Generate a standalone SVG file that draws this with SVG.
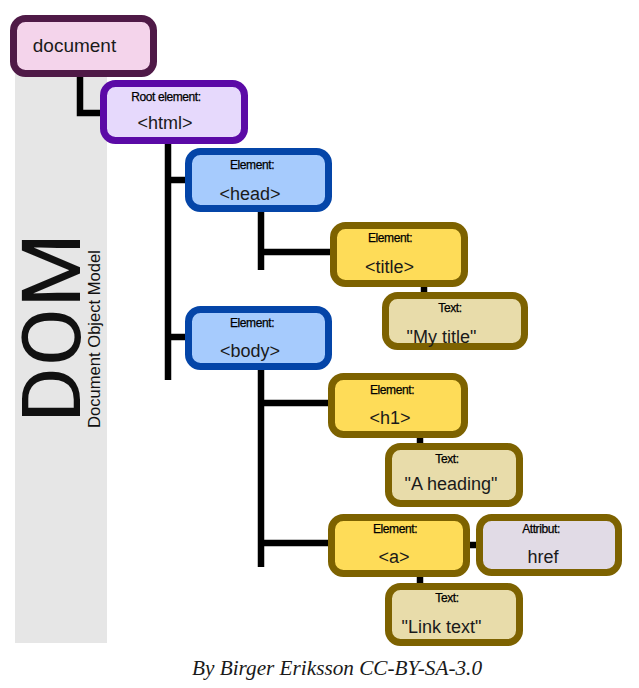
<svg xmlns="http://www.w3.org/2000/svg" width="639" height="688" viewBox="0 0 639 688">
<style>
.box{stroke-width:7}
.doc{fill:#f4d4eb;stroke:#4f1a47}
.root{fill:#e6d9fc;stroke:#5b0aa6}
.el{fill:#a6cbfd;stroke:#0445a8}
.yel{fill:#fedc58;stroke:#7d6200}
.txt{fill:#e8dcaa;stroke:#7d6200}
.att{fill:#e1dbe6;stroke:#7d6200}
text{font-family:"Liberation Sans",Arial,sans-serif;fill:#1a1a1a;text-anchor:middle}
.lbl{font-size:12px;letter-spacing:-0.4px;fill:#000;stroke:#000;stroke-width:0.25}
.val{font-size:18px}
.con path{fill:none;stroke:#000;stroke-width:6.5}
</style>
<rect x="15" y="40" width="92" height="603" fill="#e6e6e6"/>
<g id="dom-title">
<text transform="translate(80,423) rotate(-90)" style="font-family:Roboto,'Liberation Sans',sans-serif;font-weight:400;font-size:82px;text-anchor:start;fill:#111" textLength="190" lengthAdjust="spacingAndGlyphs">DOM</text>
<text transform="translate(100,428) rotate(-90)" style="font-size:16.5px;text-anchor:start;fill:#111" textLength="178" lengthAdjust="spacingAndGlyphs">Document Object Model</text>
</g>
<g class="con" id="connectors">
<path d="M80 75 V113 H104"/>
<path d="M168 142 V380"/>
<path d="M168 180 H189"/>
<path d="M168 337 H189"/>
<path d="M261 210 V270"/>
<path d="M258 252 H334"/>
<path d="M424 285 V297"/>
<path d="M261 368 V567"/>
<path d="M258 403 H332"/>
<path d="M258 543 H332"/>
<path d="M420 436 V448"/>
<path d="M468 545 H480"/>
<path d="M420 575 V588"/>
</g>
<g id="document"><rect class="box doc" x="13.5" y="18.5" width="140" height="55" rx="12"/><text x="74.5" y="52" style="font-size:19px">document</text></g>
<g id="html"><rect class="box root" x="103.5" y="83.5" width="141" height="57" rx="12"/><text class="lbl" x="166" y="101">Root element:</text><text class="val" x="165" y="129">&lt;html&gt;</text></g>
<g id="head"><rect class="box el" x="188.5" y="151.5" width="140" height="57" rx="12"/><text class="lbl" x="252" y="169">Element:</text><text class="val" x="250" y="200">&lt;head&gt;</text></g>
<g id="title"><rect class="box yel" x="333.5" y="225.5" width="131" height="58" rx="12"/><text class="lbl" x="390" y="242">Element:</text><text class="val" x="389.5" y="273">&lt;title&gt;</text></g>
<g id="mytitle"><rect class="box txt" x="385.5" y="295.5" width="139" height="51" rx="12"/><text class="lbl" x="450" y="312">Text:</text><text class="val" x="441.5" y="343">"My title"</text></g>
<g id="body"><rect class="box el" x="188.5" y="309.5" width="140" height="57" rx="12"/><text class="lbl" x="252" y="327">Element:</text><text class="val" x="250" y="357">&lt;body&gt;</text></g>
<g id="h1"><rect class="box yel" x="331.5" y="376.5" width="133" height="58" rx="12"/><text class="lbl" x="392" y="394">Element:</text><text class="val" x="390" y="424">&lt;h1&gt;</text></g>
<g id="aheading"><rect class="box txt" x="388.5" y="446.5" width="131" height="57" rx="12"/><text class="lbl" x="447" y="463">Text:</text><text class="val" x="451" y="490">"A heading"</text></g>
<g id="a"><rect class="box yel" x="331.5" y="517.5" width="135" height="56" rx="12"/><text class="lbl" x="395" y="533">Element:</text><text class="val" x="394" y="563">&lt;a&gt;</text></g>
<g id="href"><rect class="box att" x="479.5" y="517.5" width="139" height="55" rx="12"/><text class="lbl" x="541" y="533">Attribut:</text><text class="val" x="543" y="563">href</text></g>
<g id="linktext"><rect class="box txt" x="388.5" y="586.5" width="131" height="56" rx="12"/><text class="lbl" x="447" y="602">Text:</text><text class="val" x="441.5" y="633">"Link text"</text></g>
<text x="337" y="675" style="font-family:'Liberation Serif','Times New Roman',serif;font-style:italic;font-size:20px" textLength="290" lengthAdjust="spacingAndGlyphs">By Birger Eriksson CC-BY-SA-3.0</text>
</svg>
